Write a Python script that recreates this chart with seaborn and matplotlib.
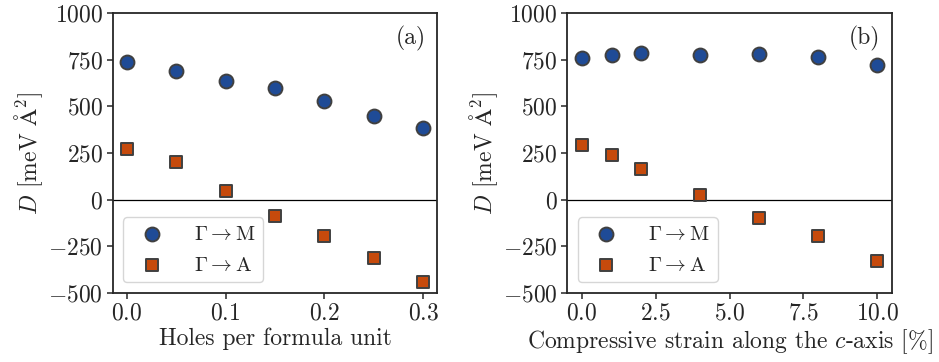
import numpy as np
import pandas as pd
import matplotlib
matplotlib.use("Agg")
import matplotlib.pyplot as plt
import seaborn as sns

sns.set_theme(style="ticks")
plt.rcParams.update({
    "font.family": "serif",
    "font.serif": ["cmr10", "DejaVu Serif"],
    "mathtext.fontset": "cm",
    "axes.formatter.use_mathtext": True,
    "font.size": 17,
    "axes.labelsize": 17,
    "xtick.labelsize": 17,
    "ytick.labelsize": 17,
    "legend.fontsize": 15,
})

holes = [0.0, 0.05, 0.10, 0.15, 0.20, 0.25, 0.30]
holes_GM = [736, 691, 636, 596, 530, 446, 384]
holes_GA = [271, 200, 46, -86, -193, -312, -441]

strain = [0, 1, 2, 4, 6, 8, 10]
strain_GM = [761, 777, 786, 777, 782, 766, 720]
strain_GA = [291, 241, 162, 27, -98, -193, -330]

labels = [r"$\Gamma \rightarrow \mathrm{M}$", r"$\Gamma \rightarrow \mathrm{A}$"]
xlabels = ["Holes per formula unit", r"Compressive strain along the $c$-axis [%]"]
panel_tags = ["(a)", "(b)"]
ylabel = r"$D$ [meV $\mathrm{\AA}^2$]"

blue = "#1f4b96"
orange = "#c64a0c"
edge = "#404040"

fig, axes = plt.subplots(1, 2, figsize=(9.39, 3.62), dpi=100)
fig.subplots_adjust(left=0.120, right=0.950, top=0.964, bottom=0.191, wspace=0.40)

datasets = [(holes, holes_GM, holes_GA), (strain, strain_GM, strain_GA)]
for i, (ax, (x, gm, ga)) in enumerate(zip(axes, datasets)):
    ax.axhline(0, color="black", lw=0.9, zorder=1)
    sns.scatterplot(x=x, y=gm, ax=ax, marker="o", s=100, color=blue,
                    edgecolor=edge, linewidth=1.4, label=labels[0], zorder=6)
    sns.scatterplot(x=x, y=ga, ax=ax, marker="s", s=85, color=orange,
                    edgecolor=edge, linewidth=1.4, label=labels[1], zorder=6)
    ax.set_ylim(-500, 1000)
    ax.set_yticks([-500, -250, 0, 250, 500, 750, 1000])
    ax.set_xlabel(xlabels[i], labelpad=2)
    ax.set_ylabel(ylabel, labelpad=2)
    ax.text(0.963, 0.955, panel_tags[i], transform=ax.transAxes, ha="right", va="top")
    for sp in ax.spines.values():
        sp.set_linewidth(1.3)
    ax.tick_params(width=1.1, length=4, pad=3)
    leg = ax.legend(loc="lower left", handletextpad=1.0, borderpad=0.38,
                    labelspacing=0.58, borderaxespad=0.5, framealpha=0.8,
                    handlelength=2.0)
    leg.set_zorder(2)

axes[0].set_xticks([0.0, 0.1, 0.2, 0.3])
axes[0].set_xlim(-0.0142, 0.3142)
axes[1].set_xticks([0.0, 2.5, 5.0, 7.5, 10.0])
axes[1].set_xlim(-0.5, 10.5)

fig.savefig("out.png", dpi=100)
